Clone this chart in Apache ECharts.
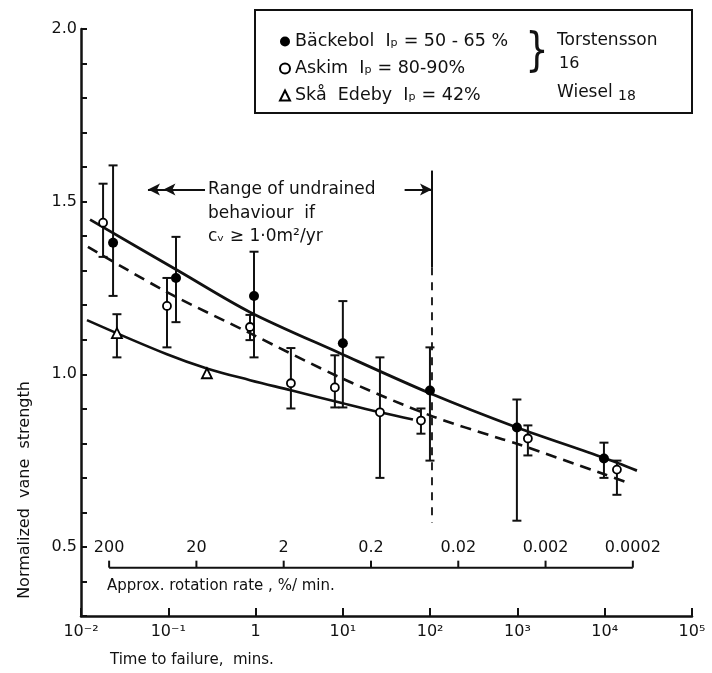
<!DOCTYPE html>
<html><head><meta charset="utf-8">
<script src="https://cdn.jsdelivr.net/npm/echarts@6/dist/echarts.min.js"></script>
<style>html,body{margin:0;padding:0;background:#fff}#c{width:712px;height:673px}</style>
</head><body><div id="c"></div>
<script>
// ---- data ----
const backTime  = [0.0233, 0.1225, 0.96, 10.0, 99.5, 986, 9800];
const backValue = [1.381, 1.279, 1.227, 1.090, 0.953, 0.846, 0.756];
const backLow   = [1.227, 1.151, 1.049, 0.904, 0.750, 0.576, 0.700];
const backHigh  = [1.605, 1.398, 1.355, 1.212, 1.078, 0.927, 0.802];

const askTime  = [0.0179, 0.0966, 0.863, 2.54, 8.1, 26.6, 78.5, 1318, 13800];
const askValue = [1.439, 1.198, 1.137, 0.974, 0.962, 0.890, 0.866, 0.814, 0.724];
const askLow   = [1.340, 1.078, 1.099, 0.901, 0.904, 0.700, 0.828, 0.765, 0.651];
const askHigh  = [1.552, 1.279, 1.172, 1.076, 1.055, 1.049, 0.901, 0.852, 0.750];

const skaTime  = [0.0258, 0.277];
const skaValue = [1.119, 1.003];
const skaLow   = [1.049, null];
const skaHigh  = [1.174, null];

const backCurveT = [0.0127, 0.136, 0.863, 9.27, 99.6, 986, 9550, 23400];
const backCurveV = [1.448, 1.297, 1.180, 1.061, 0.945, 0.846, 0.759, 0.721];
const askCurveT  = [0.0120, 0.0966, 0.863, 9.27, 99.6, 631, 986, 9550, 18450];
const askCurveV  = [1.369, 1.238, 1.119, 0.991, 0.881, 0.814, 0.799, 0.712, 0.686];
const skaCurveT  = [0.0117, 0.0966, 0.277, 0.863, 2.61, 10, 26.6, 63.5];
const skaCurveV  = [1.157, 1.058, 1.017, 0.983, 0.953, 0.916, 0.890, 0.869];

const rateLabels = [200, 20, 2, 0.2, 0.02, 0.002, 0.0002];
const rateConst = 4.2;      // time (min) * rate (%/min)
const rateLevel = 0.44;

const boundaryT = 105;
const boundarySolidV = [1.59, 1.31];
const boundaryDashV = [1.31, 0.57];
const arrowV = 1.535;
const leftArrowT = [0.263, 0.0585, 0.088];
const rightArrowT = [51, 105];

const seriesNames = ['Bäckebol  Iₚ = 50 - 65 %', 'Askim  Iₚ = 80-90%', 'Skå  Edeby  Iₚ = 42%'];
const sup = {'-':'⁻','0':'⁰','1':'¹','2':'²','3':'³','4':'⁴','5':'⁵'};

// ---- chart ----
const FONT = 'DejaVu Sans';
const zip = (a, b) => a.map((x, i) => [x, b[i]]);
const errData = (t, lo, hi) => t.map((x, i) => [x, lo[i], hi[i]]).filter(d => d[1] != null);

function errRender(params, api) {
  const t = api.value(0), lo = api.value(1), hi = api.value(2);
  const p1 = api.coord([t, hi]), p2 = api.coord([t, lo]);
  const w = 4.5;
  const st = {stroke: '#111', lineWidth: 2};
  return {type: 'group', children: [
    {type: 'line', shape: {x1: p1[0], y1: p1[1], x2: p2[0], y2: p2[1]}, style: st},
    {type: 'line', shape: {x1: p1[0]-w, y1: p1[1], x2: p1[0]+w, y2: p1[1]}, style: st},
    {type: 'line', shape: {x1: p2[0]-w, y1: p2[1], x2: p2[0]+w, y2: p2[1]}, style: st}
  ]};
}

const chart = echarts.init(document.getElementById('c'));
const lineBase = {type: 'line', symbol: 'none', silent: true, z: 2};

chart.setOption({
  animation: false,
  backgroundColor: '#fff',
  textStyle: {fontFamily: FONT, color: '#111'},
  grid: {left: 81, right: 20, top: 29, bottom: 57},
  xAxis: {
    type: 'log', logBase: 10, min: 0.01, max: 100000, splitNumber: 7,
    axisLine: {lineStyle: {color: '#111', width: 2.5}},
    axisTick: {inside: true, length: 8, lineStyle: {color: '#111', width: 2}},
    splitLine: {show: false}, minorTick: {show: false},
    axisLabel: {fontSize: 16, color: '#111', fontFamily: FONT, margin: 8,
      formatter: v => { const e = Math.round(Math.log10(v)); if (e === 0) return '1';
        return '10' + String(e).split('').map(c => sup[c]).join(''); }}
  },
  yAxis: {
    type: 'value', min: 0.3, max: 2.0, interval: 0.1,
    axisLine: {show: true, lineStyle: {color: '#111', width: 2.5}},
    axisTick: {show: true, inside: true, length: 6, lineStyle: {color: '#111', width: 2}},
    splitLine: {show: false},
    axisLabel: {fontSize: 16, color: '#111', fontFamily: FONT, margin: 4,
      formatter: v => (Math.round(v * 10) % 5 === 0 ? v.toFixed(1) : '')}
  },
  legend: {
    data: seriesNames, orient: 'vertical', left: 274, top: 27,
    itemWidth: 10, itemHeight: 10, itemGap: 8,
    textStyle: {fontSize: 17.5, fontFamily: FONT, color: '#111', lineHeight: 19}
  },
  graphic: [
    {type: 'rect', shape: {x: 255, y: 10, width: 437, height: 103}, style: {fill: 'none', stroke: '#111', lineWidth: 2}},
    {type: 'text', x: 537, y: 53, scaleX: 0.8, style: {text: '}', fontSize: 46, fontFamily: FONT, fill: '#111', align: 'center', verticalAlign: 'middle', textAlign: 'center', textVerticalAlign: 'middle'}},
    {type: 'text', x: 557, y: 41, style: {text: 'Torstensson', fontSize: 17, fontFamily: FONT, fill: '#111', verticalAlign: 'middle', textVerticalAlign: 'middle'}},
    {type: 'text', x: 559, y: 64, style: {text: '16', fontSize: 16, fontFamily: FONT, fill: '#111', verticalAlign: 'middle', textVerticalAlign: 'middle'}},
    {type: 'text', x: 557, y: 93, style: {text: 'Wiesel {s|18}', fontSize: 17, fontFamily: FONT, fill: '#111', verticalAlign: 'middle', textVerticalAlign: 'middle',
      rich: {s: {fontSize: 14, fontFamily: FONT, padding: [6, 0, 0, 0]}}}},
    {type: 'text', x: 208, y: 190, style: {text: 'Range of undrained', fontSize: 17, fontFamily: FONT, fill: '#111', verticalAlign: 'middle', textVerticalAlign: 'middle'}},
    {type: 'text', x: 208, y: 214, style: {text: 'behaviour  if', fontSize: 17, fontFamily: FONT, fill: '#111', verticalAlign: 'middle', textVerticalAlign: 'middle'}},
    {type: 'text', x: 208, y: 237, style: {text: 'cᵥ ≥ 1·0m²/yr', fontSize: 17, fontFamily: FONT, fill: '#111', verticalAlign: 'middle', textVerticalAlign: 'middle'}},
    {type: 'text', x: 25, y: 490, rotation: Math.PI / 2, style: {text: 'Normalized  vane  strength', fontSize: 16, fontFamily: FONT, fill: '#111', align: 'center', verticalAlign: 'middle', textAlign: 'center', textVerticalAlign: 'middle'}},
    {type: 'text', x: 110, y: 660, style: {text: 'Time to failure,  mins.', fontSize: 15, fontFamily: FONT, fill: '#111', verticalAlign: 'middle', textVerticalAlign: 'middle'}},
    {type: 'text', x: 107, y: 586, style: {text: 'Approx. rotation rate , %/ min.', fontSize: 15, fontFamily: FONT, fill: '#111', verticalAlign: 'middle', textVerticalAlign: 'middle'}}
  ],
  series: [
    Object.assign({}, lineBase, {name: 'backCurve', data: zip(backCurveT, backCurveV), smooth: 0.3, lineStyle: {color: '#111', width: 2.8}}),
    Object.assign({}, lineBase, {name: 'askCurve', data: zip(askCurveT, askCurveV), smooth: 0.3, lineStyle: {color: '#111', width: 2.6, type: [11, 7]}}),
    Object.assign({}, lineBase, {name: 'skaCurve', data: zip(skaCurveT, skaCurveV), smooth: 0.4, lineStyle: {color: '#111', width: 2.6}}),
    Object.assign({}, lineBase, {name: 'boundarySolid', data: boundarySolidV.map(v => [boundaryT, v]), lineStyle: {color: '#111', width: 2}}),
    Object.assign({}, lineBase, {name: 'boundaryDash', data: boundaryDashV.map(v => [boundaryT, v]), lineStyle: {color: '#111', width: 1.8, type: [8, 7]},
      markLine: {silent: true, animation: false, label: {show: false}, lineStyle: {color: '#111', width: 2, type: 'solid'}, symbolSize: [9, 12],
        data: [
          [{coord: [leftArrowT[0], arrowV], symbol: 'none'}, {coord: [leftArrowT[1], arrowV], symbol: 'arrow'}],
          [{coord: [leftArrowT[0], arrowV], symbol: 'none'}, {coord: [leftArrowT[2], arrowV], symbol: 'arrow'}],
          [{coord: [rightArrowT[0], arrowV], symbol: 'none'}, {coord: [rightArrowT[1], arrowV], symbol: 'arrow'}]
        ]}}),
    {type: 'line', name: 'rateAxis', silent: true, z: 2,
      data: rateLabels.map(r => [rateConst / r, rateLevel]),
      symbol: 'rect', symbolSize: [2, 7], symbolOffset: [0, -3.5], showSymbol: true,
      itemStyle: {color: '#111', opacity: 1}, lineStyle: {color: '#111', width: 2},
      label: {show: true, position: 'top', distance: 5, fontSize: 16, fontFamily: FONT, color: '#111',
        formatter: p => String(rateLabels[p.dataIndex])}},
    {type: 'custom', name: 'backErr', renderItem: errRender, data: errData(backTime, backLow, backHigh), encode: {x: 0, y: [1, 2]}, silent: true, z: 3},
    {type: 'custom', name: 'askErr', renderItem: errRender, data: errData(askTime, askLow, askHigh), encode: {x: 0, y: [1, 2]}, silent: true, z: 3},
    {type: 'custom', name: 'skaErr', renderItem: errRender, data: errData(skaTime, skaLow, skaHigh), encode: {x: 0, y: [1, 2]}, silent: true, z: 3},
    {type: 'scatter', name: seriesNames[0], data: zip(backTime, backValue), symbol: 'circle', symbolSize: 10, z: 5,
      itemStyle: {color: '#000', opacity: 1}},
    {type: 'scatter', name: seriesNames[1], data: zip(askTime, askValue), symbol: 'circle', symbolSize: 8, z: 5,
      itemStyle: {color: '#fff', borderColor: '#000', borderWidth: 1.8, opacity: 1}},
    {type: 'scatter', name: seriesNames[2], data: zip(skaTime, skaValue), symbol: 'triangle', symbolSize: 10, z: 5,
      itemStyle: {color: '#fff', borderColor: '#000', borderWidth: 1.8, opacity: 1}}
  ]
});
</script></body></html>
